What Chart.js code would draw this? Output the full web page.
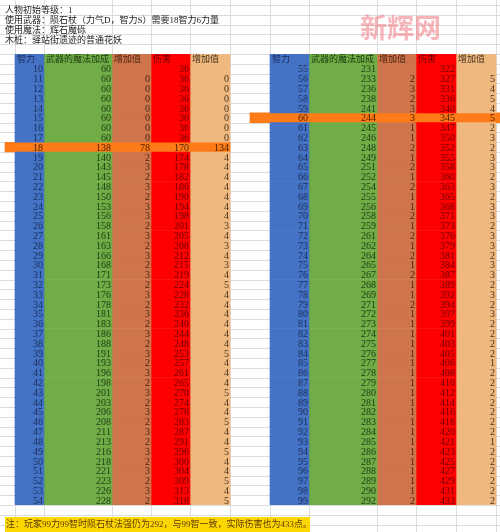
<!DOCTYPE html>
<html>
<head>
<meta charset="utf-8">
<script src="https://cdn.jsdelivr.net/npm/chart.js@4"></script>
<style>
  body { margin: 0; background: #fff; }
  #wrap { position: relative; width: 500px; height: 532px; }
</style>
</head>
<body>
<div id="wrap"><canvas id="sheet" width="500" height="532"></canvas></div>
<script>
// 数据
const headers = ['智力', '武器的魔法加成', '增加值', '伤害', '增加值'];
const infoLines = ['人物初始等级：1', '使用武器：陨石杖（力气D，智力S）需要18智力6力量', '使用魔法：辉石魔砾', '木桩：驿站街遗迹的普通花妖'];
const noteText = '注：玩家99力99智时陨石杖法强仍为292，与99智一致，实际伤害也为433点。';

const leftInt = [10,11,12,13,14,15,16,17,18,19,20,21,22,23,24,25,26,27,28,29,30,31,32,33,34,35,36,37,38,39,40,41,42,43,44,45,46,47,48,49,50,51,52,53,54];
const leftWeapon = [60,60,60,60,60,60,60,60,138,140,143,145,148,150,153,156,158,161,163,166,168,171,173,176,178,181,183,186,188,191,193,196,198,201,203,206,208,211,213,216,218,221,223,226,228];
const leftWeaponInc = [null,0,0,0,0,0,0,0,78,2,3,2,3,2,3,3,2,3,2,3,2,3,2,3,2,3,2,3,2,3,2,3,2,3,2,3,2,3,2,3,2,3,2,3,2];
const leftDmg = [36,36,36,36,36,36,36,36,170,174,178,182,186,190,194,198,201,205,208,212,215,219,224,228,232,236,240,244,248,253,257,261,265,270,274,278,283,287,291,296,300,304,309,313,318];
const leftDmgInc = [null,0,0,0,0,0,0,0,134,4,4,4,4,4,4,4,3,4,3,4,3,4,5,4,4,4,4,4,4,5,4,4,4,5,4,4,5,4,4,5,4,4,5,4,5];

const rightInt = [55,56,57,58,59,60,61,62,63,64,65,66,67,68,69,70,71,72,73,74,75,76,77,78,79,80,81,82,83,84,85,86,87,88,89,90,91,92,93,94,95,96,97,98,99];
const rightWeapon = [231,233,236,238,241,244,245,246,248,249,251,252,254,255,256,258,259,261,262,264,265,267,268,269,271,272,273,274,275,276,277,278,279,280,281,282,283,284,285,286,287,288,289,290,292];
const rightWeaponInc = [null,2,3,2,3,3,1,1,2,1,2,1,2,1,1,2,1,2,1,2,1,2,1,1,2,1,1,1,1,1,1,1,1,1,1,1,1,1,1,1,1,1,1,1,2];
const rightDmg = [322,327,331,336,340,345,347,350,352,355,358,360,363,365,368,371,373,376,379,381,384,387,389,392,394,397,399,401,403,405,406,408,410,412,414,416,418,420,421,423,425,427,429,431,433];
const rightDmgInc = [null,5,4,5,4,5,2,3,2,3,3,2,3,2,3,3,2,3,3,2,3,3,2,3,2,3,2,2,2,2,1,2,2,2,2,2,2,2,1,2,2,2,2,2,2];

const highlightInt = [18, 60];

// 布局
const colColors = ['#4472C4', '#70AD47', '#CF754B', '#FF0000', '#EEB87E'];
const textColors = ['#1c2d5a', '#1d3a12', '#4a2412', '#6a0000', '#4a3420'];
const leftEdges = [15, 44, 112, 151, 190, 230];
const rightEdges = [270, 309, 377, 416, 456, 496];
const gridX = [15, 44, 112, 151, 190, 230, 270, 309, 377, 416, 456, 496];
const rowLabels = ['h'].concat(leftInt.map((v, i) => 'r' + i));

const sides = [
  { edges: leftEdges, cols: [leftInt, leftWeapon, leftWeaponInc, leftDmg, leftDmgInc], hl: [5, 230] },
  { edges: rightEdges, cols: [rightInt, rightWeapon, rightWeaponInc, rightDmg, rightDmgInc], hl: [250, 500] }
];

const datasets = [];
sides.forEach(side => {
  side.cols.forEach((col, c) => {
    const data = [{ x: [side.edges[c], side.edges[c + 1]], y: 'h' }];
    col.forEach((v, i) => {
      if (highlightInt.indexOf(side.cols[0][i]) < 0) {
        data.push({ x: [side.edges[c], side.edges[c + 1]], y: 'r' + i });
      }
    });
    datasets.push({ data: data, backgroundColor: colColors[c], borderWidth: 0 });
  });
  side.cols[0].forEach((v, i) => {
    if (highlightInt.indexOf(v) >= 0) {
      datasets.push({ data: [{ x: side.hl, y: 'r' + i }], backgroundColor: '#FF7B17', borderWidth: 0 });
    }
  });
});

const FONT = '"Liberation Serif", "Noto Sans CJK SC", serif';

const sheetPlugin = {
  id: 'sheet',
  beforeDraw(chart) {
    const ctx = chart.ctx;
    const ys = chart.scales.y;
    const step = ys.getPixelForValue(1) - ys.getPixelForValue(0);
    const top0 = ys.getPixelForValue(0) - step / 2;
    ctx.save();
    ctx.strokeStyle = '#dcdcdc';
    ctx.lineWidth = 1;
    for (let y = top0; y > 0; y -= step) {
      ctx.beginPath(); ctx.moveTo(0, Math.round(y) + 0.5); ctx.lineTo(500, Math.round(y) + 0.5); ctx.stroke();
    }
    for (let i = 1; i <= rowLabels.length + 3; i++) {
      const y = Math.round(top0 + i * step) + 0.5;
      ctx.beginPath(); ctx.moveTo(0, y); ctx.lineTo(500, y); ctx.stroke();
    }
    gridX.forEach(x => {
      ctx.beginPath(); ctx.moveTo(x + 0.5, 0); ctx.lineTo(x + 0.5, 532); ctx.stroke();
    });
    // 说明文字
    ctx.fillStyle = '#222';
    ctx.font = '9px ' + FONT;
    ctx.textBaseline = 'middle';
    infoLines.forEach((t, i) => ctx.fillText(t, 5, top0 - step * (4 - i) - step / 2 + 1));
    // 水印
    ctx.fillStyle = 'rgba(240,120,130,0.55)';
    ctx.font = 'bold 27px "Noto Sans CJK SC", sans-serif';
    ctx.fillText('新辉网', 360, 28);
    ctx.restore();
  },
  afterDatasetsDraw(chart) {
    const ctx = chart.ctx;
    const ys = chart.scales.y;
    const xs = chart.scales.x;
    ctx.save();
    ctx.textBaseline = 'middle';
    sides.forEach((side, s) => {
      side.cols.forEach((col, c) => {
        const x0 = xs.getPixelForValue(side.edges[c]);
        const x1 = xs.getPixelForValue(side.edges[c + 1]);
        ctx.font = '9px ' + FONT;
        ctx.fillStyle = textColors[c];
        ctx.textAlign = 'left';
        ctx.fillText(headers[c], x0 + 2, ys.getPixelForValue('h') + 1);
        ctx.textAlign = 'right';
        ctx.font = '10px ' + FONT;
        col.forEach((v, i) => {
          if (v === null) return;
          const hl = highlightInt.indexOf(side.cols[0][i]) >= 0;
          ctx.fillStyle = hl ? '#4a2000' : textColors[c];
          ctx.fillText(String(v), x1 - 1, ys.getPixelForValue('r' + i) + 1);
        });
      });
    });
    // 注释
    const ny = ys.getPixelForValue(rowLabels.length - 1) + ys.getPixelForValue(1) - ys.getPixelForValue(0);
    ctx.fillStyle = '#FFD700';
    ctx.fillRect(5, 517, 305, 15);
    ctx.fillStyle = '#5a3a00';
    ctx.textAlign = 'left';
    ctx.font = '9px ' + FONT;
    ctx.fillText(noteText, 6, 525);
    ctx.restore();
  }
};

new Chart(document.getElementById('sheet').getContext('2d'), {
  type: 'bar',
  data: { labels: rowLabels, datasets: datasets },
  options: {
    indexAxis: 'y',
    responsive: false,
    animation: false,
    layout: { padding: { top: 54, bottom: 27, left: 0, right: 0 } },
    datasets: { bar: { categoryPercentage: 1, barPercentage: 1, grouped: false } },
    scales: {
      x: { type: 'linear', min: 0, max: 500, display: false },
      y: { type: 'category', display: false }
    },
    plugins: { legend: { display: false }, tooltip: { enabled: false } }
  },
  plugins: [sheetPlugin]
});
</script>
</body>
</html>
